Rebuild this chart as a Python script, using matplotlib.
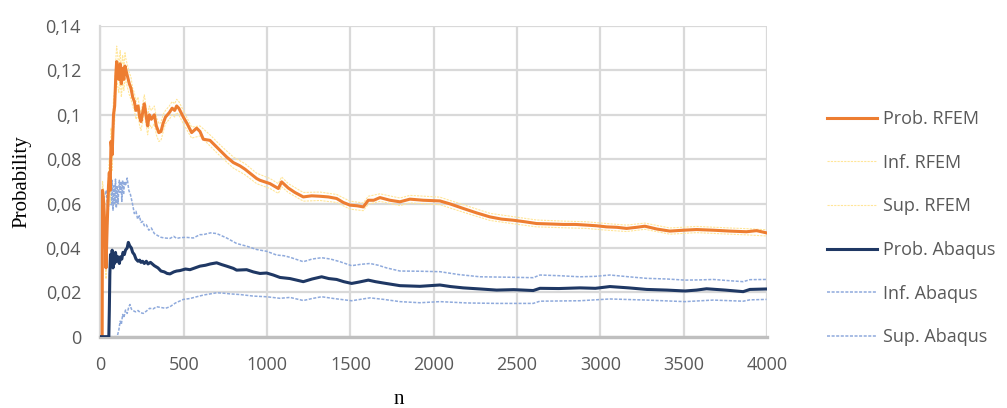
import matplotlib
matplotlib.use("Agg")
import matplotlib.pyplot as plt
from matplotlib.ticker import FuncFormatter, MultipleLocator

# Running failure-probability estimates (RFEM vs Abaqus) with confidence bounds
n_prob_rfem = [0, 10, 12, 20, 28, 33, 40, 48, 53, 58, 63, 70, 78, 85, 92, 97, 103, 110, 118, 125,
               133, 140, 147, 153, 163, 173, 183, 193, 203, 213, 225, 235, 243, 253, 263, 275, 283,
               293, 305, 323, 335, 350, 363, 375, 390, 413, 430, 445, 457, 470, 497, 520, 547, 577,
               597, 617, 657, 697, 717, 757, 797, 837, 867, 897, 937, 957, 1017, 1067, 1087, 1127,
               1167, 1217, 1267, 1317, 1367, 1417, 1457, 1497, 1540, 1577, 1607, 1640, 1677, 1737,
               1797, 1857, 1937, 2037, 2100, 2177, 2257, 2337, 2407, 2477, 2547, 2617, 2700, 2777,
               2850, 2917, 2977, 3037, 3100, 3157, 3217, 3267, 3340, 3417, 3500, 3577, 3677, 3777,
               3877, 3937, 3997]
prob_rfem = [0, 0, 0.066, 0.060, 0.045, 0.031, 0.050, 0.068, 0.074, 0.066, 0.088, 0.082, 0.100,
             0.104, 0.118, 0.124, 0.120, 0.116, 0.123, 0.114, 0.121, 0.116, 0.122, 0.120, 0.117,
             0.114, 0.112, 0.108, 0.106, 0.102, 0.104, 0.099, 0.097, 0.101, 0.105, 0.099, 0.095,
             0.100, 0.098, 0.100, 0.095, 0.092, 0.0925, 0.096, 0.099, 0.101, 0.103, 0.102, 0.104,
             0.103, 0.099, 0.096, 0.092, 0.094, 0.0925, 0.089, 0.0885, 0.0855, 0.084, 0.081,
             0.0785, 0.077, 0.0755, 0.0737, 0.0713, 0.0705, 0.069, 0.0668, 0.0698, 0.067, 0.065,
             0.063, 0.0635, 0.0633, 0.063, 0.0623, 0.0605, 0.0593, 0.059, 0.0585, 0.0615, 0.0615,
             0.0627, 0.0615, 0.0608, 0.062, 0.0615, 0.0612, 0.0598, 0.0578, 0.0558, 0.054, 0.053,
             0.0525, 0.0518, 0.051, 0.0508, 0.0506, 0.0506, 0.0503, 0.050, 0.0495, 0.0493, 0.0488,
             0.0493, 0.0498, 0.0485, 0.0476, 0.048, 0.0483, 0.048, 0.0476, 0.0473, 0.0478, 0.0468]

n_bounds_rfem = [0, 10, 12, 20, 28, 33, 40, 48, 53, 58, 63, 70, 78, 85, 92, 97, 103, 110, 118, 125,
                 133, 140, 147, 153, 163, 173, 183, 193, 203, 213, 225, 235, 243, 253, 263, 275,
                 283, 293, 305, 323, 335, 350, 363, 375, 390, 413, 430, 445, 457, 470, 497, 547,
                 597, 657, 717, 797, 867, 937, 1017, 1067, 1087, 1127, 1217, 1317, 1417, 1497, 1577,
                 1607, 1677, 1797, 1857, 2037, 2177, 2337, 2477, 2617, 2777, 2917, 3037, 3157, 3267,
                 3417, 3577, 3777, 3877, 3997]
inf_rfem = [0, 0, 0.062, 0.055, 0.040, 0.026, 0.044, 0.062, 0.068, 0.060, 0.082, 0.075, 0.093,
            0.097, 0.111, 0.117, 0.113, 0.110, 0.117, 0.108, 0.115, 0.111, 0.116, 0.115, 0.112,
            0.109, 0.107, 0.104, 0.102, 0.098, 0.100, 0.095, 0.093, 0.097, 0.101, 0.095, 0.091,
            0.096, 0.094, 0.096, 0.091, 0.088, 0.0885, 0.092, 0.096, 0.098, 0.100, 0.099, 0.101,
            0.100, 0.096, 0.0895, 0.0905, 0.086, 0.0815, 0.076, 0.073, 0.069, 0.0668, 0.0646,
            0.0676, 0.0650, 0.0611, 0.0614, 0.0605, 0.0575, 0.0568, 0.0597, 0.061, 0.0591, 0.0603,
            0.0595, 0.0561, 0.0524, 0.0509, 0.0495, 0.0491, 0.0488, 0.048, 0.0474, 0.0484, 0.0462,
            0.0469, 0.0462, 0.0459, 0.0454]
sup_rfem = [0, 0, 0.070, 0.065, 0.050, 0.036, 0.056, 0.074, 0.080, 0.072, 0.094, 0.089, 0.107,
            0.111, 0.125, 0.131, 0.127, 0.122, 0.129, 0.120, 0.127, 0.121, 0.128, 0.125, 0.122,
            0.119, 0.117, 0.112, 0.110, 0.106, 0.108, 0.103, 0.101, 0.105, 0.109, 0.103, 0.099,
            0.104, 0.102, 0.104, 0.099, 0.096, 0.0965, 0.100, 0.102, 0.104, 0.106, 0.105, 0.107,
            0.106, 0.102, 0.0945, 0.095, 0.091, 0.0865, 0.081, 0.078, 0.0737, 0.0713, 0.069,
            0.072, 0.069, 0.065, 0.0652, 0.0641, 0.0611, 0.0603, 0.0633, 0.0644, 0.0625, 0.0637,
            0.0629, 0.0595, 0.0556, 0.0541, 0.0526, 0.0521, 0.0518, 0.051, 0.0503, 0.0512, 0.049,
            0.0497, 0.049, 0.0487, 0.0482]

n_prob_abaqus = [0, 50, 53, 56, 60, 65, 70, 75, 80, 85, 90, 97, 105, 113, 120, 128, 135, 143, 150,
                 160, 167, 175, 185, 193, 203, 213, 225, 235, 243, 253, 263, 275, 285, 300, 323,
                 345, 363, 383, 400, 417, 440, 457, 477, 510, 537, 567, 597, 630, 660, 697, 727,
                 757, 797, 817, 877, 917, 957, 997, 1037, 1077, 1137, 1217, 1270, 1327, 1370, 1417,
                 1460, 1507, 1550, 1607, 1650, 1697, 1797, 1917, 2037, 2100, 2177, 2280, 2377, 2480,
                 2597, 2637, 2750, 2877, 2970, 3057, 3170, 3277, 3400, 3507, 3577, 3637, 3750, 3857,
                 3897, 3997]
prob_abaqus = [0, 0, 0.012, 0.028, 0.037, 0.032, 0.039, 0.031, 0.036, 0.033, 0.038, 0.034, 0.036,
               0.033, 0.036, 0.035, 0.038, 0.037, 0.039, 0.040, 0.0425, 0.041, 0.040, 0.038, 0.037,
               0.035, 0.034, 0.0345, 0.0335, 0.034, 0.033, 0.034, 0.0328, 0.0335, 0.032, 0.031,
               0.0296, 0.0292, 0.0285, 0.0283, 0.0292, 0.0296, 0.0298, 0.0305, 0.0302, 0.031,
               0.0318, 0.0322, 0.0328, 0.0333, 0.0325, 0.0318, 0.0308, 0.030, 0.0302, 0.0292,
               0.0285, 0.0287, 0.0278, 0.0267, 0.0262, 0.0248, 0.026, 0.027, 0.0262, 0.0258,
               0.0248, 0.024, 0.0246, 0.0255, 0.0248, 0.0242, 0.023, 0.0227, 0.0233, 0.0226, 0.022,
               0.0215, 0.021, 0.0212, 0.0208, 0.0218, 0.0217, 0.022, 0.0218, 0.0226, 0.022, 0.0213,
               0.021, 0.0206, 0.021, 0.0216, 0.021, 0.0203, 0.0213, 0.0215]

n_inf_abaqus = [0, 100, 110, 118, 125, 133, 140, 150, 160, 170, 177, 185, 195, 210, 225, 240, 257,
                275, 295, 315, 337, 360, 390, 417, 450, 497, 537, 577, 620, 660, 697, 740, 777, 837,
                917, 997, 1077, 1137, 1217, 1270, 1327, 1400, 1507, 1617, 1700, 1797, 1917, 2037,
                2200, 2377, 2597, 2637, 2877, 3057, 3277, 3507, 3677, 3857, 3897, 3997]
inf_abaqus = [0, 0, 0.003, 0.007, 0.0055, 0.010, 0.0085, 0.012, 0.0105, 0.0135, 0.0145, 0.0125,
              0.0118, 0.0112, 0.0118, 0.0108, 0.0105, 0.0115, 0.0128, 0.0125, 0.0135, 0.0132,
              0.0128, 0.0135, 0.0152, 0.0168, 0.0172, 0.018, 0.0188, 0.0193, 0.0198, 0.0196,
              0.0193, 0.019, 0.0183, 0.018, 0.0173, 0.0177, 0.0163, 0.0172, 0.018, 0.0172, 0.0162,
              0.0175, 0.0168, 0.0158, 0.0153, 0.0158, 0.0152, 0.015, 0.015, 0.016, 0.0162, 0.017,
              0.0165, 0.0158, 0.0165, 0.016, 0.0166, 0.0168]

n_sup_abaqus = [0, 5, 20, 35, 45, 55, 60, 65, 70, 75, 80, 85, 90, 95, 100, 105, 113, 118, 123, 128,
                133, 138, 145, 150, 160, 170, 180, 193, 203, 213, 223, 233, 243, 253, 263, 275, 290,
                305, 323, 345, 363, 383, 417, 440, 457, 477, 510, 557, 597, 617, 660, 697, 757, 817,
                877, 937, 997, 1057, 1100, 1137, 1217, 1270, 1327, 1380, 1437, 1507, 1560, 1617,
                1667, 1717, 1797, 1917, 2037, 2150, 2277, 2450, 2597, 2637, 2750, 2877, 2970, 3057,
                3170, 3277, 3400, 3507, 3600, 3677, 3780, 3857, 3897, 3997]
sup_abaqus = [0, 0.066, 0.062, 0.066, 0.055, 0.067, 0.070, 0.059, 0.0705, 0.057, 0.068, 0.060,
              0.071, 0.058, 0.068, 0.060, 0.0705, 0.065, 0.070, 0.061, 0.0705, 0.064, 0.070, 0.068,
              0.0715, 0.066, 0.064, 0.0595, 0.0555, 0.0565, 0.053, 0.0545, 0.0515, 0.052, 0.050,
              0.0505, 0.048, 0.049, 0.0465, 0.0455, 0.0448, 0.0445, 0.0443, 0.0452, 0.0443, 0.0446,
              0.0448, 0.0445, 0.046, 0.046, 0.0468, 0.0465, 0.0445, 0.042, 0.0408, 0.0393, 0.0385,
              0.0368, 0.0365, 0.0358, 0.0338, 0.035, 0.0356, 0.035, 0.0338, 0.032, 0.0326, 0.033,
              0.0322, 0.031, 0.0296, 0.0295, 0.0293, 0.028, 0.027, 0.0268, 0.0266, 0.0278, 0.0275,
              0.027, 0.0272, 0.0278, 0.027, 0.0263, 0.026, 0.0255, 0.0256, 0.0258, 0.0252, 0.0248,
              0.0257, 0.0258]

x_ticks = [0, 500, 1000, 1500, 2000, 2500, 3000, 3500, 4000]

ORANGE = "#ED7D31"
YELLOW = "#FFE699"
NAVY = "#1F3864"
LIGHT_BLUE = "#8FAADC"
TICK_GREY = "#595959"

plt.rcParams["font.family"] = ["Open Sans", "DejaVu Sans"]

fig = plt.figure(figsize=(10.07, 4.08), dpi=100)
ax = fig.add_axes([0.0998, 0.1748, 0.6619, 0.7612])

ax.plot(n_prob_rfem, prob_rfem, color=ORANGE, lw=2.2, label="Prob. RFEM", zorder=4)
ax.plot(n_bounds_rfem, inf_rfem, color=YELLOW, lw=0.8, ls=(0, (2, 1)), label="Inf. RFEM", zorder=3)
ax.plot(n_bounds_rfem, sup_rfem, color=YELLOW, lw=0.8, ls=(0, (2, 1)), label="Sup. RFEM", zorder=3)
ax.plot(n_prob_abaqus, prob_abaqus, color=NAVY, lw=2.2, label="Prob. Abaqus", zorder=5)
ax.plot(n_inf_abaqus, inf_abaqus, color=LIGHT_BLUE, lw=1.1, ls=(0, (2, 1)), label="Inf. Abaqus", zorder=2)
ax.plot(n_sup_abaqus, sup_abaqus, color=LIGHT_BLUE, lw=1.1, ls=(0, (2, 1)), label="Sup. Abaqus", zorder=2)

ax.set_xlim(0, 4000)
ax.set_ylim(0, 0.14)
ax.set_xticks(x_ticks)
ax.yaxis.set_major_locator(MultipleLocator(0.02))
ax.yaxis.set_major_formatter(FuncFormatter(lambda v, _: f"{v:g}".replace(".", ",")))

ax.grid(True, color="#D9D9D9", lw=1.6)
ax.set_axisbelow(True)
ax.tick_params(length=0, labelsize=13, labelcolor=TICK_GREY)
ax.tick_params(axis="y", pad=14)
ax.tick_params(axis="x", pad=14)
for side in ("top", "right"):
    ax.spines[side].set_visible(False)
ax.spines["left"].set_color("#D9D9D9")
ax.spines["left"].set_linewidth(1.6)
ax.spines["bottom"].set_color("#BFBFBF")
ax.spines["bottom"].set_linewidth(2.4)

fig.text(0.022, 0.555, "Probability", rotation=90, ha="center", va="center",
         family="Liberation Serif", fontsize=15)
fig.text(0.396, 0.022, "n", ha="center", va="center", family="Liberation Serif", fontsize=15)

leg = fig.legend(loc="upper left", bbox_to_anchor=(0.814, 0.748), frameon=False,
                 fontsize=13, handlelength=2.8, handletextpad=0.3, labelspacing=1.42,
                 borderaxespad=0)
for t in leg.get_texts():
    t.set_color(TICK_GREY)

fig.savefig("out.png", dpi=100)
